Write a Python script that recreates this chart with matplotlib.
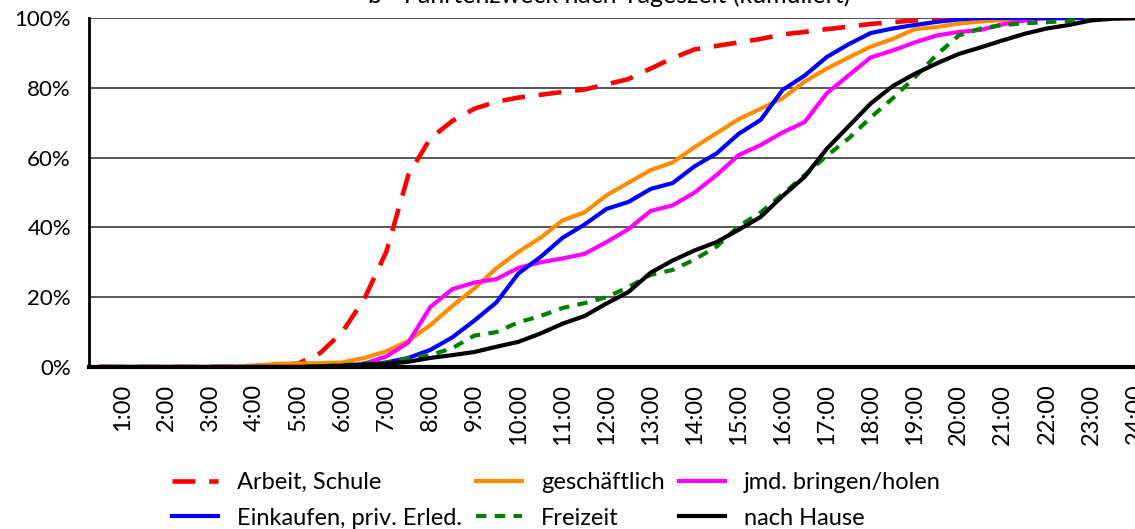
import matplotlib
matplotlib.use("Agg")
import matplotlib.pyplot as plt
from matplotlib.ticker import FuncFormatter

plt.rcParams['font.family'] = ['Lato', 'DejaVu Sans']

# Halbstundenwerte 0:30 ... 24:00 (kumuliert, in %)
hours = [f"{h}:00" for h in range(1, 25)]

arbeit = [0, 0, 0, 0, 0, 0, 0.1, 0.3, 0.5, 1.0, 4.0, 10, 19.5, 33, 55, 65.5,
          70.5, 74, 76, 77.2, 78, 78.8, 79.5, 81, 82.5, 85.5, 88.5, 91, 92, 93, 94, 95.3,
          96, 96.8, 97.5, 98.3, 98.8, 99.3, 99.7, 100, 100, 100, 100, 100, 100, 100, 100, 100]
geschaeftlich = [0, 0, 0, 0, 0, 0, 0.1, 0.3, 0.9, 1.0, 1.1, 1.3, 2.6, 4.5, 7.5, 12,
                 17.5, 22.5, 28.3, 33, 37, 42, 44.3, 49.2, 52.8, 56.4, 58.6, 63, 67, 71, 74, 77,
                 81.8, 85.5, 88.7, 91.8, 94, 96.8, 97.4, 98.4, 99, 99.4, 99.8, 100, 100, 100, 100, 100]
bringen = [0, 0, 0, 0, 0, 0, 0, 0, 0, 0, 0, 0.2, 1.0, 3, 7, 17.2,
           22.3, 24.2, 25.2, 28.4, 30, 31.1, 32.4, 35.8, 39.5, 44.7, 46.3, 50, 55, 60.7, 63.6, 67.2,
           70.2, 78.4, 83.6, 88.7, 90.7, 93, 95, 96, 96.6, 98.2, 99.3, 100, 100, 100, 100, 100]
einkaufen = [0, 0, 0, 0, 0, 0, 0, 0, 0, 0, 0, 0.2, 0.5, 1.3, 2.6, 4.9,
             8.5, 13.3, 18.5, 26.8, 31.5, 37, 40.8, 45.3, 47.3, 51, 52.7, 57.5, 61.2, 66.8, 70.8, 79.4,
             83.5, 88.8, 92.5, 95.7, 97, 98, 98.9, 99.6, 100, 100, 100, 100, 100, 100, 100, 100]
freizeit = [0, 0, 0, 0, 0, 0, 0, 0, 0, 0, 0.2, 0.5, 1.0, 1.2, 2.5, 3.4,
            5.4, 9, 10, 12.8, 14.6, 16.9, 18.3, 20, 22.9, 26.4, 27.8, 30.8, 34.5, 40.3, 44.3, 49.5,
            55, 60.5, 65.5, 71.5, 77, 83, 89.5, 95, 97, 98, 98.5, 98.8, 99.2, 99.7, 100, 100]
nach_hause = [0, 0, 0, 0, 0, 0, 0, 0, 0, 0, 0.2, 0.4, 0.7, 0.9, 1.5, 2.6,
              3.4, 4.3, 5.8, 7.2, 9.6, 12.4, 14.6, 18.2, 21.5, 27, 30.5, 33.4, 35.8, 39.3, 43, 49,
              54.5, 62.5, 69, 75.5, 80.5, 84, 87, 89.7, 91.6, 93.6, 95.5, 97, 98, 99.3, 99.8, 100]

x = list(range(len(arbeit)))

fig = plt.figure(figsize=(11.35, 5.29), dpi=100)
ax = fig.add_axes([89 / 1135, (529 - 367) / 529, (1146 - 89) / 1135, 349 / 529])

lw = 3.0
l_arb, = ax.plot(x, arbeit, color='#ff0000', lw=3.3, dashes=(5, 3), label='Arbeit, Schule')
l_ges, = ax.plot(x, geschaeftlich, color='#ff8c00', lw=lw, label='geschäftlich')
l_jmd, = ax.plot(x, bringen, color='#ff00ff', lw=lw, label='jmd. bringen/holen')
l_ein, = ax.plot(x, einkaufen, color='#0000ff', lw=lw, label='Einkaufen, priv. Erled.')
l_frz, = ax.plot(x, freizeit, color='#008000', lw=lw, dashes=(2.5, 2), label='Freizeit')
l_hau, = ax.plot(x, nach_hause, color='#000000', lw=lw, label='nach Hause')

ax.set_xlim(-0.5, 47.5)
ax.set_ylim(0, 100)
ax.set_xticks(range(1, 48, 2))
ax.set_xticklabels(hours, rotation=90, fontsize=17)
ax.set_yticks(range(0, 101, 20))
ax.yaxis.set_major_formatter(FuncFormatter(lambda v, p: f"{v:.0f}%"))
ax.tick_params(axis='y', length=0, pad=13, labelsize=16)
ax.tick_params(axis='x', length=0, pad=12)
ax.yaxis.grid(True, color='#3a3a3a', lw=1.2)
ax.set_axisbelow(True)
for s in ['top', 'right']:
    ax.spines[s].set_visible(False)
ax.spines['left'].set_linewidth(2)
ax.spines['bottom'].set_linewidth(3)

fig.text(0.537, 0.995, 'b - Fahrtenzweck nach Tageszeit (kumuliert)', ha='center',
         va='baseline', fontsize=18)

handles = [l_arb, l_ein, l_ges, l_frz, l_jmd, l_hau]
fig.legend(handles=handles, labels=[h.get_label() for h in handles], ncol=3,
           loc='upper left', bbox_to_anchor=(172 / 1135, 1 - 472 / 529), frameon=False,
           fontsize=17, handlelength=1.95, handletextpad=0.8, columnspacing=0.6,
           labelspacing=0.62, borderpad=0, borderaxespad=0)

plt.savefig("out.png", dpi=100)
